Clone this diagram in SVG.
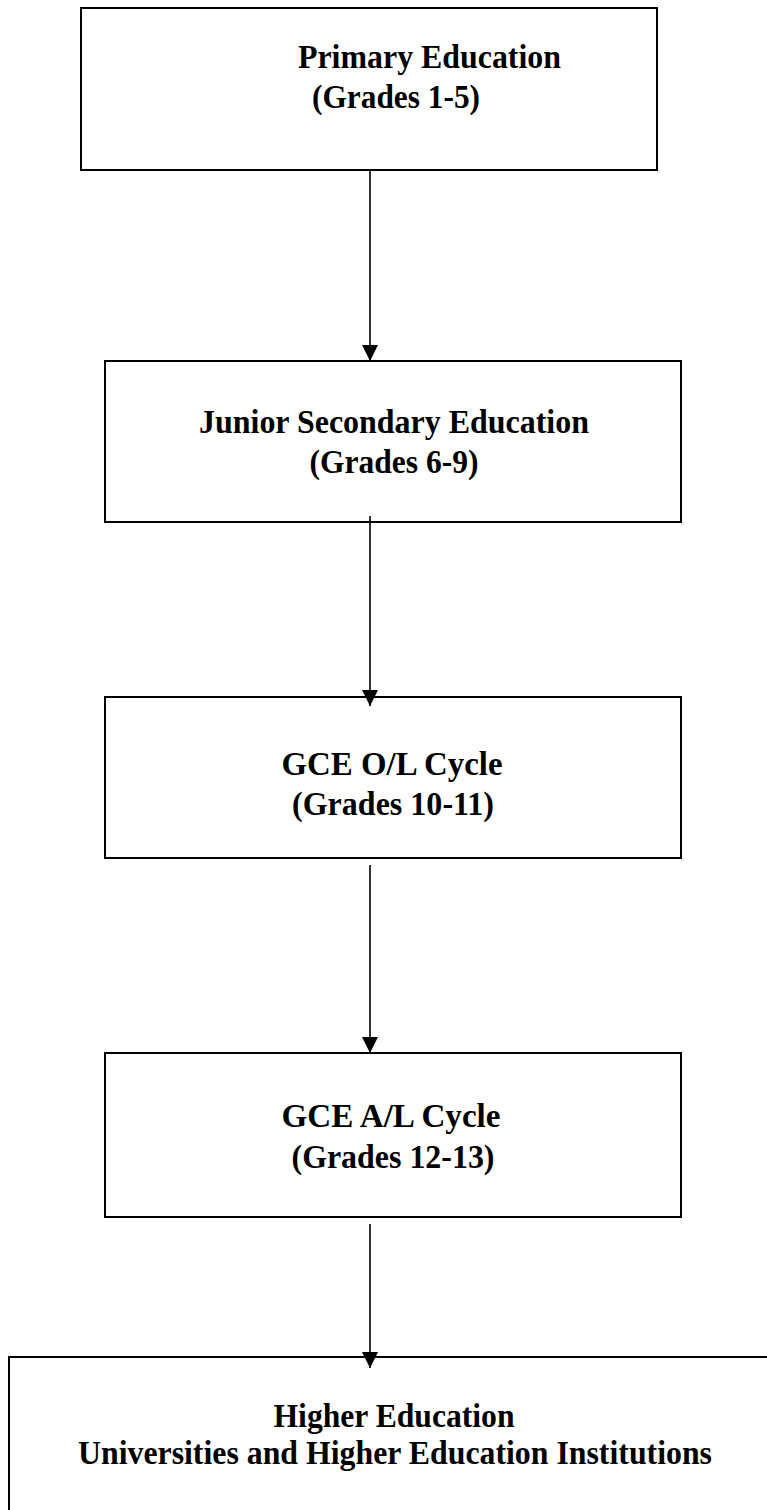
<svg xmlns="http://www.w3.org/2000/svg" width="767" height="1510" viewBox="0 0 767 1510">
<style>
.box{fill:#fff;stroke:#000;stroke-width:2}
.t{font-family:"Liberation Serif","Times New Roman",serif;font-weight:bold;font-size:33.5px;fill:#000}
.c{text-anchor:middle}
.ln{stroke:#000;stroke-width:1.6;fill:none}
</style>
<defs>
<marker id="ah" markerWidth="16" markerHeight="16" refX="16" refY="8" orient="auto" markerUnits="userSpaceOnUse">
<path d="M0,0 L16,8 L0,16 Z" fill="#000"/>
</marker>
</defs>
<rect width="767" height="1510" fill="#fff"/>
<g id="n1">
<rect class="box" x="81" y="8" width="576" height="162"/>
<text class="t" x="298" y="68" textLength="263" lengthAdjust="spacingAndGlyphs">Primary Education</text>
<text class="t" x="312" y="108" textLength="168" lengthAdjust="spacingAndGlyphs">(Grades 1-5)</text>
</g>
<g id="n2">
<rect class="box" x="105" y="361" width="576" height="161"/>
<text class="t c" x="394" y="433" textLength="390" lengthAdjust="spacingAndGlyphs">Junior Secondary Education</text>
<text class="t c" x="394" y="473" textLength="169" lengthAdjust="spacingAndGlyphs">(Grades 6-9)</text>
</g>
<g id="n3">
<rect class="box" x="105" y="697" width="576" height="161"/>
<text class="t c" x="392" y="775" textLength="221" lengthAdjust="spacingAndGlyphs">GCE O/L Cycle</text>
<text class="t c" x="393" y="815" textLength="202" lengthAdjust="spacingAndGlyphs">(Grades 10-11)</text>
</g>
<g id="n4">
<rect class="box" x="105" y="1053" width="576" height="164"/>
<text class="t c" x="391" y="1127" textLength="219" lengthAdjust="spacingAndGlyphs">GCE A/L Cycle</text>
<text class="t c" x="393" y="1168" textLength="203" lengthAdjust="spacingAndGlyphs">(Grades 12-13)</text>
</g>
<g id="n5">
<rect class="box" x="9" y="1357" width="800" height="200"/>
<text class="t c" x="394" y="1427" textLength="241" lengthAdjust="spacingAndGlyphs">Higher Education</text>
<text class="t c" x="395" y="1464" textLength="634" lengthAdjust="spacingAndGlyphs">Universities and Higher Education Institutions</text>
</g>
<g id="connectors">
<line class="ln" x1="370" y1="170" x2="370" y2="361" marker-end="url(#ah)"/>
<line class="ln" x1="370" y1="516" x2="370" y2="706" marker-end="url(#ah)"/>
<line class="ln" x1="370" y1="865" x2="370" y2="1053" marker-end="url(#ah)"/>
<line class="ln" x1="370" y1="1224" x2="370" y2="1368" marker-end="url(#ah)"/>
</g>
</svg>
